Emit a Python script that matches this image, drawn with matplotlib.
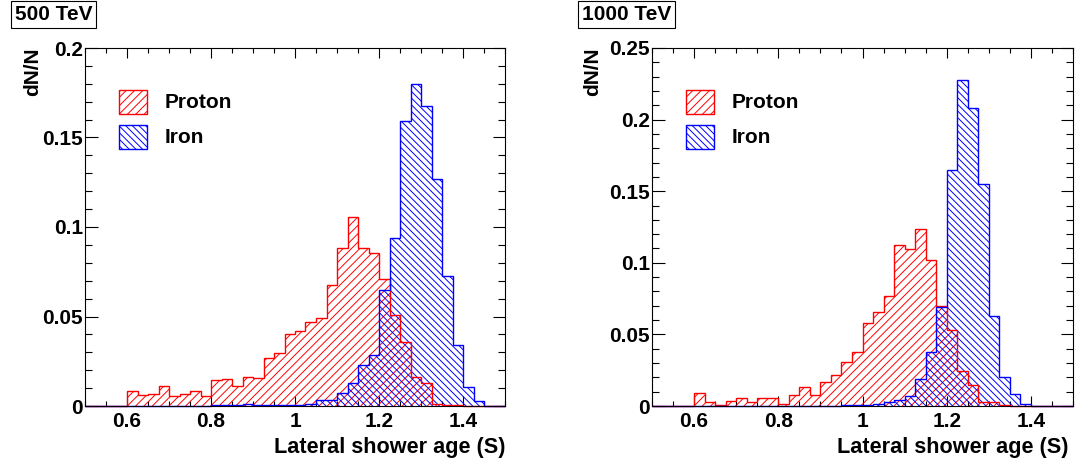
import matplotlib

matplotlib.use("Agg")
import matplotlib.pyplot as plt
import numpy as np
from matplotlib.patches import Rectangle
from matplotlib.ticker import FuncFormatter, MultipleLocator

# 40 bins of width 0.025 from 0.5 to 1.5 (values are dN/N per bin)
bin_edges = np.linspace(0.5, 1.5, 41)

proton_500 = [
    0, 0, 0, 0,
    0.0086, 0.0060, 0.0066, 0.0109, 0.0054, 0.0069, 0.0086, 0.0056,
    0.0144, 0.0151, 0.0109, 0.0160, 0.0156, 0.0267, 0.0295, 0.0400,
    0.0418, 0.0471, 0.0494, 0.0674, 0.0884, 0.1056, 0.0884, 0.0855,
    0.0707, 0.0509, 0.0355, 0.0160, 0.0127, 0.0012, 0.0008, 0.0005,
    0, 0, 0, 0,
]
iron_500 = [
    0, 0, 0, 0,
    0, 0, 0, 0, 0, 0, 0, 0,
    0.0005, 0.0003, 0.0005, 0.0010, 0.0008, 0.0005, 0.0003, 0.0005,
    0.0008, 0.0010, 0.0035, 0.0032, 0.0072, 0.0129, 0.0230, 0.0286,
    0.0648, 0.0940, 0.1592, 0.1798, 0.1674, 0.1266, 0.0728, 0.0340,
    0.0108, 0.0030, 0, 0,
]
proton_1000 = [
    0, 0, 0, 0,
    0.0088, 0.0028, 0.0007, 0.0036, 0.0057, 0.0028, 0.0057, 0.0057,
    0.0016, 0.0075, 0.0130, 0.0077, 0.0171, 0.0216, 0.0305, 0.0376,
    0.0583, 0.0655, 0.0771, 0.1122, 0.1094, 0.1237, 0.1020, 0.0700,
    0.0534, 0.0244, 0.0149, 0.0028, 0.0028, 0.0010, 0.0003, 0,
    0, 0, 0, 0,
]
iron_1000 = [
    0, 0, 0, 0,
    0, 0, 0, 0, 0, 0, 0, 0,
    0.0003, 0, 0, 0, 0.0003, 0.0003, 0.0005, 0.0005,
    0.0010, 0.0015, 0.0025, 0.0040, 0.0070, 0.0186, 0.0374, 0.0693,
    0.1647, 0.2278, 0.2078, 0.1547, 0.0631, 0.0202, 0.0086, 0.0014,
    0, 0, 0, 0,
]

panel_titles = ["500 TeV", "1000 TeV"]
y_limits = [0.2, 0.25]
series_labels = ["Proton", "Iron"]

W, H = 1078, 463
RED = "#ff0000"
BLUE = "#0000ff"
FS = 15

plt.rcParams["font.family"] = ["Liberation Sans", "DejaVu Sans"]
plt.rcParams["font.weight"] = "bold"
plt.rcParams["hatch.linewidth"] = 0.7


def _hist(ax, values, color, hatch):
    ax.stairs(values, bin_edges, fill=True, hatch=hatch, facecolor="none",
              edgecolor=color, linewidth=0, zorder=2)
    ax.stairs(values, bin_edges, color=color, linewidth=1.0, zorder=3,
              clip_on=False)


def _style_axes(ax, ymax):
    ax.set_xlim(0.5, 1.5)
    ax.set_ylim(0, ymax)
    ax.xaxis.set_major_locator(MultipleLocator(0.2))
    ax.xaxis.set_minor_locator(MultipleLocator(0.05))
    ax.yaxis.set_major_locator(MultipleLocator(0.05))
    ax.yaxis.set_minor_locator(MultipleLocator(0.01))
    fmt = FuncFormatter(lambda v, _: f"{v:g}")
    ax.xaxis.set_major_formatter(fmt)
    ax.yaxis.set_major_formatter(fmt)
    ax.tick_params(which="both", direction="in", top=True, right=True,
                   width=0.8, labelsize=FS)
    ax.tick_params(axis="x", which="major", length=7, pad=4)
    ax.tick_params(axis="x", which="minor", length=3.5)
    ax.tick_params(axis="y", which="major", length=9, pad=1.5)
    ax.tick_params(axis="y", which="minor", length=4.7)
    for s in ax.spines.values():
        s.set_linewidth(0.8)
        s.set_zorder(4)


def _legend(ax):
    for i, (color, hatch) in enumerate([(RED, "////"), (BLUE, "\\\\\\\\\\")]):
        y0 = 0.816 - i * 0.098
        ax.add_patch(Rectangle((0.081, y0), 0.067, 0.067, transform=ax.transAxes,
                               facecolor="none", edgecolor=color, hatch=hatch,
                               linewidth=1.0))
        ax.text(0.19, y0 + 0.031, series_labels[i], transform=ax.transAxes,
                fontsize=FS, ha="left", va="center")


def _panel(rect, proton, iron, ymax, title, title_x, ylab_x, xlab_shift):
    ax = fig.add_axes(rect)
    _hist(ax, proton, RED, "////")
    _hist(ax, iron, BLUE, "\\\\\\\\\\")
    _style_axes(ax, ymax)
    _legend(ax)
    ax.text(1.0 + xlab_shift, -0.115, "Lateral shower age (S)",
            transform=ax.transAxes, fontsize=15.6, ha="right", va="center")
    fig.text(ylab_x / W, 1 - 48 / H, "dN/N", rotation=90, fontsize=FS,
             ha="center", va="top")
    fig.text(title_x / W, 1 - 14.5 / H, title, fontsize=15, ha="center",
             va="center",
             bbox=dict(boxstyle="square,pad=0.2", facecolor="white",
                       edgecolor="black", linewidth=0.8))
    return ax


fig = plt.figure(figsize=(W / 100, H / 100), dpi=100)
_panel([85 / W, (H - 406) / H, 420 / W, 358 / H], proton_500, iron_500,
       y_limits[0], panel_titles[0], 53.5, 33, 0.0)
_panel([652 / W, (H - 406) / H, 421 / W, 358 / H], proton_1000, iron_1000,
       y_limits[1], panel_titles[1], 626.5, 593, -0.01)

fig.savefig("out.png", dpi=100)
